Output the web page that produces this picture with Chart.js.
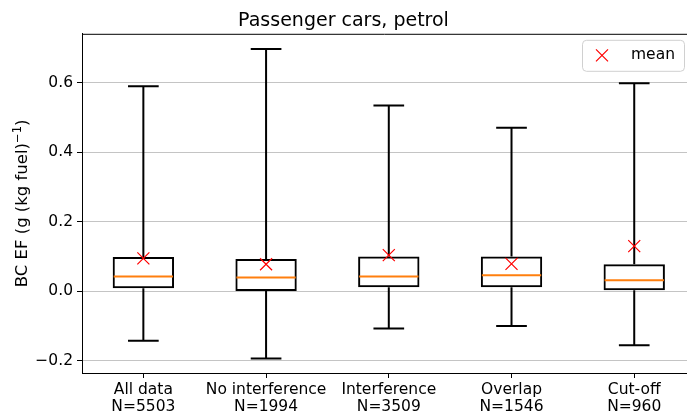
<!DOCTYPE html>
<html>
<head>
<meta charset="utf-8">
<script src="https://cdn.jsdelivr.net/npm/chart.js@4"></script>
<style>
    html, body { margin: 0; padding: 0; background: #fff; overflow: hidden; }
</style>
</head>
<body>
<canvas id="chart" width="687" height="413"></canvas>
<script>
// Boîtes à moustaches (BC EF, voitures essence).
const categories = [
    ['All data', 'N=5503'],
    ['No interference', 'N=1994'],
    ['Interference', 'N=3509'],
    ['Overlap', 'N=1546'],
    ['Cut-off', 'N=960']
];
const positions = [1, 2, 3, 4, 5];
const whiskLo = [-0.142, -0.193, -0.107, -0.100, -0.155];
const q1      = [0.009, 0.001, 0.012, 0.012, 0.003];
const median  = [0.043, 0.040, 0.043, 0.046, 0.032];
const q3      = [0.099, 0.093, 0.100, 0.100, 0.078];
const whiskHi = [0.590, 0.697, 0.535, 0.471, 0.599];
const means   = [0.095, 0.078, 0.104, 0.079, 0.130];
const yTicks  = [-0.2, 0.0, 0.2, 0.4, 0.6];

const FONT = 'DejaVu Sans';
const TICK_SIZE = 15.5;
const LABEL_SIZE = 16.5;
const ink = '#000000';
const orange = '#ff7f0e';
const red = '#ff0000';

// Moustaches, médianes, légende et titre d'axe (avec exposant) dessinés à la main.
const boxExtras = {
    id: 'boxExtras',
    beforeDatasetsDraw(chart) {
        const ctx = chart.ctx;
        const y = chart.scales.y;
        const bars = chart.getDatasetMeta(1).data;
        ctx.save();
        ctx.strokeStyle = ink;
        ctx.lineWidth = 2;
        bars.forEach((bar, i) => {
            const cap = bar.width / 4;
            ctx.beginPath();
            ctx.moveTo(bar.x, y.getPixelForValue(q3[i]));
            ctx.lineTo(bar.x, y.getPixelForValue(whiskHi[i]));
            ctx.moveTo(bar.x, y.getPixelForValue(q1[i]));
            ctx.lineTo(bar.x, y.getPixelForValue(whiskLo[i]));
            ctx.moveTo(bar.x - cap, y.getPixelForValue(whiskHi[i]));
            ctx.lineTo(bar.x + cap, y.getPixelForValue(whiskHi[i]));
            ctx.moveTo(bar.x - cap, y.getPixelForValue(whiskLo[i]));
            ctx.lineTo(bar.x + cap, y.getPixelForValue(whiskLo[i]));
            ctx.stroke();
        });
        ctx.restore();
    },
    afterDatasetsDraw(chart) {
        const ctx = chart.ctx;
        const y = chart.scales.y;
        const bars = chart.getDatasetMeta(1).data;
        const area = chart.chartArea;
        ctx.save();
        ctx.strokeStyle = orange;
        ctx.lineWidth = 2;
        bars.forEach((bar, i) => {
            const py = y.getPixelForValue(median[i]);
            ctx.beginPath();
            ctx.moveTo(bar.x - bar.width / 2 + 1, py);
            ctx.lineTo(bar.x + bar.width / 2 - 1, py);
            ctx.stroke();
        });
        // cadre haut (le bord droit sort de l'image)
        ctx.strokeStyle = ink;
        ctx.lineWidth = 1;
        ctx.beginPath();
        ctx.moveTo(area.left, area.top + 0.5);
        ctx.lineTo(area.right, area.top + 0.5);
        ctx.stroke();

        // légende façon matplotlib, en haut à droite
        const w = 102, h = 31;
        const lx = area.right - 3 - w, ly = area.top + 6;
        ctx.fillStyle = 'rgba(255,255,255,0.8)';
        ctx.strokeStyle = '#d0d0d0';
        ctx.beginPath();
        ctx.roundRect(lx + 0.5, ly + 0.5, w, h, 4);
        ctx.fill();
        ctx.stroke();
        const cx = lx + 20, cy = ly + h / 2;
        ctx.strokeStyle = red;
        ctx.lineWidth = 1.2;
        ctx.beginPath();
        ctx.moveTo(cx - 6, cy - 6); ctx.lineTo(cx + 6, cy + 6);
        ctx.moveTo(cx - 6, cy + 6); ctx.lineTo(cx + 6, cy - 6);
        ctx.stroke();
        ctx.fillStyle = ink;
        ctx.font = TICK_SIZE + 'px "' + FONT + '"';
        ctx.textBaseline = 'middle';
        ctx.fillText('mean', lx + 49, cy);

        // titre de l'axe y : BC EF (g (kg fuel)^−1)
        const main = 'BC EF (g (kg fuel)';
        const sup = '\u22121';
        const big = LABEL_SIZE + 'px "' + FONT + '"';
        const small = (LABEL_SIZE * 0.7) + 'px "' + FONT + '"';
        ctx.font = big;
        const wMain = ctx.measureText(main).width;
        const wClose = ctx.measureText(')').width;
        ctx.font = small;
        const wSup = ctx.measureText(sup).width;
        const total = wMain + wSup + wClose;
        ctx.translate(22, (area.top + area.bottom) / 2);
        ctx.rotate(-Math.PI / 2);
        ctx.textBaseline = 'alphabetic';
        ctx.textAlign = 'left';
        const base = 5;
        let tx = -total / 2;
        ctx.font = big;
        ctx.fillText(main, tx, base);
        tx += wMain;
        ctx.font = small;
        ctx.fillText(sup, tx, base - 6.5);
        tx += wSup;
        ctx.font = big;
        ctx.fillText(')', tx, base);
        ctx.restore();
    }
};

new Chart(document.getElementById('chart'), {
    type: 'bar',
    data: {
        datasets: [
            {
                type: 'scatter',
                label: 'mean',
                data: positions.map((x, i) => ({ x: x, y: means[i] })),
                pointStyle: 'crossRot',
                pointRadius: 8.5,
                pointBorderColor: red,
                pointBorderWidth: 1.2,
                order: 0
            },
            {
                label: 'box',
                data: positions.map((x, i) => ({ x: x, y: [q1[i], q3[i]] })),
                backgroundColor: 'rgba(0,0,0,0)',
                borderColor: ink,
                borderWidth: 2,
                borderSkipped: false,
                barPercentage: 0.5,
                categoryPercentage: 1,
                order: 1
            }
        ]
    },
    options: {
        responsive: false,
        animation: false,
        layout: { autoPadding: false, padding: { left: 0, right: 0, top: 0, bottom: 0 } },
        plugins: {
            legend: { display: false },
            tooltip: { enabled: false },
            title: {
                display: true,
                text: 'Passenger cars, petrol',
                color: ink,
                font: { family: FONT, size: 19, weight: 'normal' },
                padding: { top: 10, bottom: 1 }
            }
        },
        scales: {
            x: {
                type: 'linear',
                offset: false,
                min: 0.5,
                max: 5.43,
                afterFit(s) { s.height = 40; s.paddingLeft = 0; s.paddingRight = 0; },
                afterBuildTicks(s) { s.ticks = positions.map(v => ({ value: v })); },
                grid: {
                    offset: false,
                    drawOnChartArea: false,
                    drawTicks: true,
                    tickLength: 5,
                    tickColor: ink
                },
                border: { display: true, color: ink, width: 1 },
                ticks: {
                    color: ink,
                    padding: 3,
                    maxRotation: 0,
                    autoSkip: false,
                    font: { family: FONT, size: TICK_SIZE, lineHeight: 1.13 },
                    callback: v => categories[v - 1]
                }
            },
            y: {
                min: -0.235,
                max: 0.741,
                afterFit(s) { s.width = 82; },
                afterBuildTicks(s) { s.ticks = yTicks.map(v => ({ value: v })); },
                grid: {
                    color: '#c4c4c4',
                    lineWidth: 1,
                    tickColor: ink,
                    tickLength: 5
                },
                border: { display: true, color: ink, width: 1 },
                ticks: {
                    color: ink,
                    padding: 4,
                    font: { family: FONT, size: TICK_SIZE },
                    callback: v => (v < 0 ? '\u2212' + Math.abs(v).toFixed(1) : v.toFixed(1))
                }
            }
        }
    },
    plugins: [boxExtras]
});
</script>
</body>
</html>
